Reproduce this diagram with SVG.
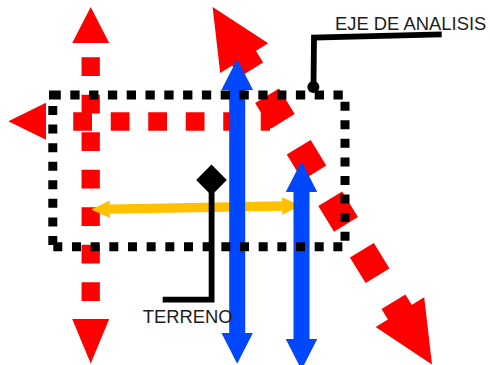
<svg xmlns="http://www.w3.org/2000/svg" width="490" height="365" viewBox="0 0 490 365">
  <style>
    .red { fill: none; stroke: #ff0000; }
    .redhead { fill: #ff0000; stroke: none; }
    .blue { fill: none; stroke: #0047ff; stroke-width: 16; marker-start: url(#blueHead); marker-end: url(#blueHead); }
    .yellow { fill: none; stroke: #ffc000; stroke-width: 9.3; marker-start: url(#yellowHead); marker-end: url(#yellowHead); }
    .dots { fill: none; stroke: #000000; stroke-width: 9; stroke-linecap: butt; }
    .callout { fill: none; stroke: #000000; stroke-width: 5.8; stroke-linejoin: miter; }
    .label { font-family: "Liberation Sans", Arial, sans-serif; font-size: 18.4px; fill: #1c1c1c; }
  </style>
  <defs>
    <marker id="blueHead" markerUnits="userSpaceOnUse" viewBox="0 0 31 31.6" markerWidth="31" markerHeight="31.6" refX="0.5" refY="15.8" orient="auto-start-reverse">
      <path d="M0,0 L31,15.8 L0,31.6 Z" fill="#0047ff"/>
    </marker>
    <marker id="yellowHead" markerUnits="userSpaceOnUse" viewBox="0 0 18.7 17.4" markerWidth="18.7" markerHeight="17.4" refX="0.5" refY="8.7" orient="auto-start-reverse">
      <path d="M0,0 L18.7,8.7 L0,17.4 Z" fill="#ffc000"/>
    </marker>
  </defs>

  <g id="connectors">
    <!-- red vertical dotted double arrow -->
    <g id="red-vertical">
      <path class="red" d="M90.7,57.3 V301" stroke-width="18.3" stroke-dasharray="18.75 18.75"/>
      <polygon class="redhead" points="90.7,7 109.2,43 72.2,43"/>
      <polygon class="redhead" points="90.7,363.5 109.2,319 72.2,319"/>
    </g>
    <!-- red horizontal dotted arrow to the left -->
    <g id="red-horizontal">
      <path class="red" d="M270,121.5 H55" stroke-width="18.3" stroke-dasharray="18.75 18.75" stroke-dashoffset="9.5"/>
      <polygon class="redhead" points="8.3,121.2 46,102.7 46,139.7"/>
    </g>
    <!-- red diagonal dotted double arrow -->
    <g id="red-diagonal">
      <path class="red" d="M235.5,44.3 L409.1,327.2" stroke-width="28" stroke-dasharray="30 30.4"/>
      <polygon class="redhead" points="212.6,7 268.2,43.3 220.2,72.9"/>
      <polygon class="redhead" points="432,364.5 424.2,297.2 375.6,327"/>
    </g>
    <!-- yellow double arrow -->
    <path id="yellow-arrow" class="yellow" d="M109.3,209.2 L282.7,206"/>
    <!-- blue double arrows -->
    <path id="blue-left" class="blue" d="M237.2,89.5 V333.3"/>
    <path id="blue-right" class="blue" d="M301.5,191.7 V339.3"/>
  </g>

  <g id="analysis-area">
    <path class="dots" d="M49,95 H343" stroke-dasharray="11.8 9.5 9.3 9.5 9.3 9.5 9.3 9.5 9.3 9.5 9.3 9.5 9.3 9.5 9.3 9.5 9.3 9.5 9.3 9.5 9.3 9.5 9.3 9.5 9.3 9.5 9.3 9.5 9.3 9.5 9.3 9.5"/>
    <path class="dots" d="M345,101.7 V241" stroke-dasharray="9 9.57"/>
    <path class="dots" d="M53.3,246.8 H343" stroke-dasharray="9 9.67"/>
    <path class="dots" d="M52.8,106 V245" stroke-dasharray="9 9.57"/>
  </g>

  <g id="eje-de-analisis">
    <path class="callout" d="M441.7,34.3 L314,37.5 L313.5,87"/>
    <circle cx="313.4" cy="87" r="6" fill="#000000"/>
    <text class="label" x="335" y="30">EJE DE ANALISIS</text>
  </g>

  <g id="terreno">
    <path class="callout" d="M162.7,299.7 L211.6,299.7 L211.6,185"/>
    <polygon points="211.5,164.5 226.8,180 211.5,195.5 196.2,180" fill="#000000"/>
    <text class="label" x="142.7" y="323.3">TERRENO</text>
  </g>
</svg>
